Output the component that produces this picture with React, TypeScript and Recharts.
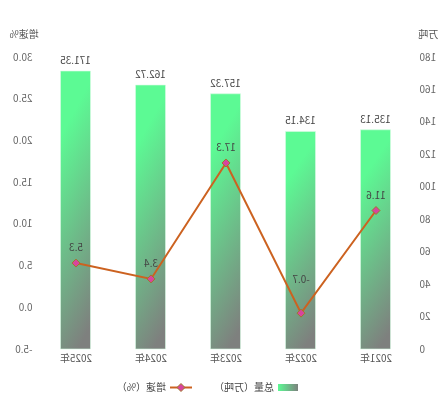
import { ComposedChart, Bar, Line, XAxis, YAxis, LabelList } from "recharts";

const years = ["2021年", "2022年", "2023年", "2024年", "2025年"];
const totals = [135.13, 134.15, 157.32, 162.72, 171.35];
const growth = [11.6, -0.7, 17.3, 3.4, 5.3];
const totalTicks = [0, 20, 40, 60, 80, 100, 120, 140, 160, 180];
const growthTicks = [-5, 0, 5, 10, 15, 20, 25, 30];
const seriesNames = ["总量（万吨）", "增速（%）"];

const FONT = '"Noto Sans CJK SC", "Noto Sans", sans-serif';
const FS = 10;
const LINE_COLOR = "#cc6220";
const DOT_FILL = "#d8449e";
const DOT_STROKE = "#a0782a";

const data = years.map((year, i) => ({
  year,
  total: totals[i],
  growth: growth[i],
}));

const Diamond = (props: any) => {
  const { cx, cy, index } = props;
  if (cx == null || cy == null) return null;
  return (
    <path
      key={`dot-${index}`}
      d={`M${cx},${cy - 4} L${cx + 4},${cy} L${cx},${cy + 4} L${cx - 4},${cy} Z`}
      fill={DOT_FILL}
      stroke={DOT_STROKE}
      strokeWidth={1}
    />
  );
};

const GrowthLabel = (props: any) => {
  const { x, y, value, index } = props;
  // the negative point's label sits higher in the reference
  const lift = value < 0 ? 30 : 12;
  return (
    <text
      key={`lbl-${index}`}
      x={x}
      y={y - lift}
      textAnchor="middle"
      fontSize={FS}
      fill="#444"
      fontFamily={FONT}
    >
      {value}
    </text>
  );
};

const Legend = () => (
  <svg
    width={447}
    height={20}
    style={{ position: "absolute", left: 0, top: 377 }}
  >
    <defs>
      <linearGradient id="legendGrad" x1="0" y1="0" x2="1" y2="0">
        <stop offset="0%" stopColor="#7c837e" />
        <stop offset="100%" stopColor="#5cfa94" />
      </linearGradient>
    </defs>
    <rect x={149} y={7} width={20} height={7} fill="url(#legendGrad)" />
    <text x={173} y={14} fontSize={FS} fill="#444" fontFamily={FONT}>
      {seriesNames[0]}
    </text>
    <line x1={255} y1={10.5} x2={277} y2={10.5} stroke={LINE_COLOR} strokeWidth={2} />
    <path d="M266,6.5 L270,10.5 L266,14.5 L262,10.5 Z" fill={DOT_FILL} stroke={DOT_STROKE} />
    <text x={281} y={14} fontSize={FS} fill="#444" fontFamily={FONT}>
      {seriesNames[1]}
    </text>
  </svg>
);

export default function App() {
  return (
    <div
      style={{
        position: "fixed",
        left: 0,
        top: 0,
        width: 447,
        height: 404,
        background: "#fff",
        transform: "scaleX(-1)",
      }}
    >
      <ComposedChart
        width={447}
        height={404}
        data={data}
        margin={{ top: 57, right: 10, left: 4, bottom: 25 }}
        barCategoryGap={0}
      >
        <defs>
          <linearGradient id="barGrad" x1="0.6" y1="0" x2="0.4" y2="1">
            <stop offset="0%" stopColor="#5cfa94" />
            <stop offset="15%" stopColor="#5cfa94" />
            <stop offset="100%" stopColor="#7e807e" />
          </linearGradient>
        </defs>
        <XAxis
          dataKey="year"
          axisLine={false}
          tickLine={false}
          tickMargin={0}
          height={30}
          tick={{ fontSize: FS, fill: "#555", fontFamily: FONT }}
        />
        <YAxis
          yAxisId="total"
          orientation="left"
          domain={[0, 180]}
          ticks={totalTicks}
          width={29.5}
          axisLine={false}
          tickLine={false}
          tickMargin={0}
          tick={{ fontSize: FS, fill: "#666", fontFamily: FONT }}
          label={{ value: "万吨", position: "top", offset: 19, fontSize: FS, fill: "#555", fontFamily: FONT }}
        />
        <YAxis
          yAxisId="growth"
          orientation="right"
          domain={[-5, 30]}
          ticks={growthTicks}
          width={28.5}
          axisLine={false}
          tickLine={false}
          tickMargin={0}
          tickFormatter={(v: number) => v.toFixed(1)}
          tick={{ fontSize: FS, fill: "#666", fontFamily: FONT }}
          label={{ value: "增速%", position: "top", offset: 19, fontSize: FS, fill: "#555", fontFamily: FONT }}
        />
        <Bar
          yAxisId="total"
          dataKey="total"
          name={seriesNames[0]}
          barSize={30}
          fill="url(#barGrad)"
          stroke="#d8fbe4"
          strokeWidth={0.6}
          isAnimationActive={false}
        >
          <LabelList
            dataKey="total"
            position="top"
            offset={7}
            formatter={(v: any) => Number(v).toFixed(2)}
            style={{ fontSize: FS, fill: "#444", fontFamily: FONT }}
          />
        </Bar>
        <Line
          yAxisId="growth"
          dataKey="growth"
          name={seriesNames[1]}
          type="linear"
          stroke={LINE_COLOR}
          strokeWidth={2}
          dot={Diamond}
          activeDot={false}
          label={GrowthLabel}
          isAnimationActive={false}
        />
      </ComposedChart>
      <Legend />
    </div>
  );
}
